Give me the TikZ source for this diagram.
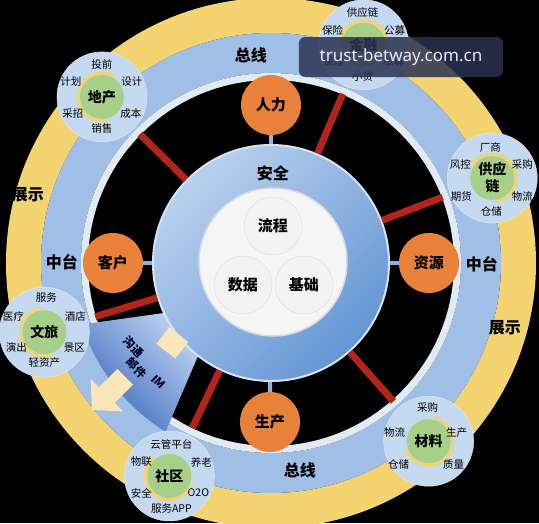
\documentclass[tikz,border=0pt]{standalone}
\usepackage{fontspec}
\usepackage{tikz}
\usepackage{xcolor}
\usetikzlibrary{positioning}
\newfontfamily\cjk{Noto Sans CJK SC}
\newfontfamily\wmfont{Noto Sans}

\definecolor{ringyellow}{HTML}{F3D470}
\definecolor{ringblue}{HTML}{9FBFE7}
\definecolor{rimwhite}{HTML}{E2EAF4}
\definecolor{corelight}{HTML}{B9D1EE}
\definecolor{coredark}{HTML}{6596D5}
\definecolor{orangeball}{HTML}{E8813A}
\definecolor{satblue}{HTML}{C5D9F1}
\definecolor{satgreen}{HTML}{A7CF87}
\definecolor{barred}{HTML}{B3241B}
\definecolor{cream}{HTML}{FBE6BA}
\definecolor{linkblue}{HTML}{8DB3E2}
\definecolor{fandark}{HTML}{3A68BE}
\definecolor{fanlight}{HTML}{BCD2EF}
\definecolor{wmback}{HTML}{2B3252}

\tikzset{
  corenode/.style={circle, minimum size=236pt, inner sep=0pt, top color=corelight, bottom color=coredark, shading angle=45, draw=corelight!60!white, line width=2pt},
  ballnode/.style={circle, fill=orangeball, minimum size=60pt, inner sep=0pt, font=\cjk\bfseries\fontsize{15}{15}\selectfont},
  petal/.style={circle, draw=black!14, fill=black!5, minimum size=58pt, inner sep=0pt, font=\cjk\bfseries\fontsize{15}{15}\selectfont},
  satnode/.style={circle, fill=satblue, draw=satblue!50!white, minimum size=90pt, inner sep=0pt},
  hubnode/.style={circle, fill=satgreen, minimum size=44pt, inner sep=0pt, align=center, font=\cjk\bfseries\fontsize{14}{14}\selectfont},
  hubarc/.style={ringyellow, line width=3pt},
  tag/.style={inner sep=0pt, font=\cjk\fontsize{10.5}{10.5}\selectfont},
  ringtext/.style={inner sep=0pt, font=\cjk\bfseries\fontsize{16}{16}\selectfont},
  fantext/.style={inner sep=0pt, rotate=-45, text=black!85!blue, font=\cjk\bfseries\fontsize{11.5}{11.5}\selectfont},
  redbar/.style={barred, line width=7pt, shorten >=8pt},
  link/.style={linkblue, line width=4pt},
}

\begin{document}
\begin{tikzpicture}[x=1pt,y=1pt]
  \useasboundingbox (-271,-260) rectangle (268,263);
  \fill[black] (-271,-260) rectangle (268,263);

  % rings
  \fill[ringyellow, even odd rule] (0,0) circle (265pt) (0,0) circle (230pt);
  \fill[ringblue, even odd rule] (0,0) circle (230pt) (0,0) circle (190pt);
  \fill[rimwhite, even odd rule] (0,0) circle (190pt) (0,0) circle (183pt);

  % fan
  \shade[top color=fanlight, bottom color=fandark, shading angle=-45]
    (206:112) -- (198:199) arc[start angle=198, end angle=238, radius=199pt] -- (231:112) -- cycle;

  % core
  \node[corenode] (core) at (0,0) {};
  \node[circle, minimum size=148pt, inner sep=0pt, fill=black!4, draw=black!15, line width=1.5pt] (inner) at (2,1) {};
  \node[petal] (flow) at (2,37) {流程};
  \node[petal] (data) at (-28,-22) {数据};
  \node[petal] (base) at (33,-22) {基础};
  \node[ringtext] (safe) at (2,90) {安全};

  \node[rectangle, fill=cream, minimum width=24pt, minimum height=21pt, inner sep=0pt, rotate=-38] (gate) at (219:127) {};
  \node[fantext] (talk) at (-137,-84) {沟通};
  \node[fantext] (mail) at (-134,-105) {邮件};
  \node[fantext] (im) at (-112,-119) {IM};
  \begin{scope}[shift={(-179,-147)}, rotate=45]
    \fill[cream] (0,0) -- (21,23) -- (21,11) -- (47,11) -- (47,-11) -- (21,-11) -- (21,-23) -- cycle;
  \end{scope}

  % orange balls
  \node[ballnode] (hr) at (0,158) {人力};
  \node[ballnode] (cust) at (-158,0) {客户};
  \node[ballnode] (res) at (158,0) {资源};
  \node[ballnode] (prod) at (-1,-159) {生产};

  % 地产
  \node[satnode] (est) at (135.5:237) {};
  \node[hubnode] (est-hub) at (est) {地产};
  \draw[hubarc] (est.center) ++(55:24pt) arc[start angle=55, end angle=285, radius=24pt];
  \node[tag] (est-t) at ([shift={(0,32)}]est.center) {投前};
  \node[tag] (est-tr) at ([shift={(30,15)}]est.center) {设计};
  \node[tag] (est-br) at ([shift={(29,-17)}]est.center) {成本};
  \node[tag] (est-b) at ([shift={(0,-32)}]est.center) {销售};
  \node[tag] (est-bl) at ([shift={(-29,-17)}]est.center) {采招};
  \node[tag] (est-tl) at ([shift={(-31,15)}]est.center) {计划};

  % 金融
  \node[satnode] (fin) at (67:237) {};
  \node[hubnode] (fin-hub) at (fin) {金融};
  \draw[hubarc] (fin.center) ++(10:24pt) arc[start angle=10, end angle=170, radius=24pt];
  \node[tag] (fin-t) at ([shift={(-1,32)}]fin.center) {供应链};
  \node[tag] (fin-tr) at ([shift={(31,14)}]fin.center) {公募};
  \node[tag] (fin-br) at ([shift={(30,-17)}]fin.center) {私募};
  \node[tag] (fin-b) at ([shift={(-1,-32)}]fin.center) {小贷};
  \node[tag] (fin-bl) at ([shift={(-30,-17)}]fin.center) {保理};
  \node[tag] (fin-tl) at ([shift={(-31,14)}]fin.center) {保险};

  % 供应链
  \node[satnode] (supp) at (21:237) {};
  \node[hubnode, font=\cjk\bfseries\fontsize{14}{17}\selectfont] (supp-hub) at (supp) {供应\\链};
  \draw[hubarc] (supp.center) ++(-80:24pt) arc[start angle=-80, end angle=150, radius=24pt];
  \node[tag] (supp-t) at ([shift={(-2,31)}]supp.center) {厂商};
  \node[tag] (supp-tr) at ([shift={(30,14)}]supp.center) {采购};
  \node[tag] (supp-br) at ([shift={(30,-18)}]supp.center) {物流};
  \node[tag] (supp-b) at ([shift={(-1,-33)}]supp.center) {仓储};
  \node[tag] (supp-bl) at ([shift={(-31,-18)}]supp.center) {期货};
  \node[tag] (supp-tl) at ([shift={(-32,14)}]supp.center) {风控};

  % 文旅
  \node[satnode] (tour) at (197:237) {};
  \node[hubnode] (tour-hub) at (tour) {文旅};
  \draw[hubarc] (tour.center) ++(95:24pt) arc[start angle=95, end angle=290, radius=24pt];
  \node[tag] (tour-t) at ([shift={(2,35)}]tour.center) {服务};
  \node[tag] (tour-tr) at ([shift={(31,16)}]tour.center) {酒店};
  \node[tag] (tour-br) at ([shift={(30,-15)}]tour.center) {景区};
  \node[tag] (tour-b) at ([shift={(0,-30)}]tour.center) {轻资产};
  \node[tag] (tour-bl) at ([shift={(-28,-15)}]tour.center) {演出};
  \node[tag] (tour-tl) at ([shift={(-31,16)}]tour.center) {医疗};

  % 社区
  \node[satnode] (comm) at (244.5:236) {};
  \node[hubnode] (comm-hub) at (comm) {社区};
  \draw[hubarc] (comm.center) ++(130:24pt) arc[start angle=130, end angle=340, radius=24pt];
  \node[tag] (comm-t) at ([shift={(2,31)}]comm.center) {云管平台};
  \node[tag] (comm-tr) at ([shift={(32,14)}]comm.center) {养老};
  \node[tag] (comm-br) at ([shift={(29,-17)}]comm.center) {O2O};
  \node[tag] (comm-b) at ([shift={(2,-33)}]comm.center) {服务APP};
  \node[tag] (comm-bl) at ([shift={(-28,-17)}]comm.center) {安全};
  \node[tag] (comm-tl) at ([shift={(-28,14)}]comm.center) {物联};

  % 材料
  \node[satnode] (mat) at (-48.5:238) {};
  \node[hubnode] (mat-hub) at (mat) {材料};
  \draw[hubarc] (mat.center) ++(-160:24pt) arc[start angle=-160, end angle=80, radius=24pt];
  \node[tag] (mat-t) at ([shift={(-1,34)}]mat.center) {采购};
  \node[tag] (mat-r) at ([shift={(28,9)}]mat.center) {生产};
  \node[tag] (mat-br) at ([shift={(25,-23)}]mat.center) {质量};
  \node[tag] (mat-bl) at ([shift={(-30,-23)}]mat.center) {仓储};
  \node[tag] (mat-l) at ([shift={(-34,9)}]mat.center) {物流};

  % ring labels
  \node[ringtext] (bus1) at (-20,208) {总线};
  \node[ringtext] (bus2) at (29,-207) {总线};
  \node[ringtext] (mid1) at (-209,1) {中台};
  \node[ringtext] (mid2) at (211,-1) {中台};
  \node[ringtext] (show1) at (-243,68) {展示};
  \node[ringtext] (show2) at (234,-65) {展示};

  % bars and links
  \draw[redbar] (core) -- (est);
  \draw[redbar] (core) -- (fin);
  \draw[redbar] (core) -- (supp);
  \draw[redbar] (core) -- (tour);
  \draw[redbar] (core) -- (comm);
  \draw[redbar] (core) -- (mat);
  \draw[link] (hr) -- (core);
  \draw[link] (cust) -- (core);
  \draw[link] (res) -- (core);
  \draw[link] (prod) -- (core);

  % watermark
  \node[fill=wmback, fill opacity=0.85, text opacity=1, text=white!92!blue, rounded corners=6pt, minimum width=204pt, minimum height=40pt, font=\wmfont\fontsize{17}{17}\selectfont] (wm) at (130,206) {trust-betway.com.cn};
\end{tikzpicture}
\end{document}
